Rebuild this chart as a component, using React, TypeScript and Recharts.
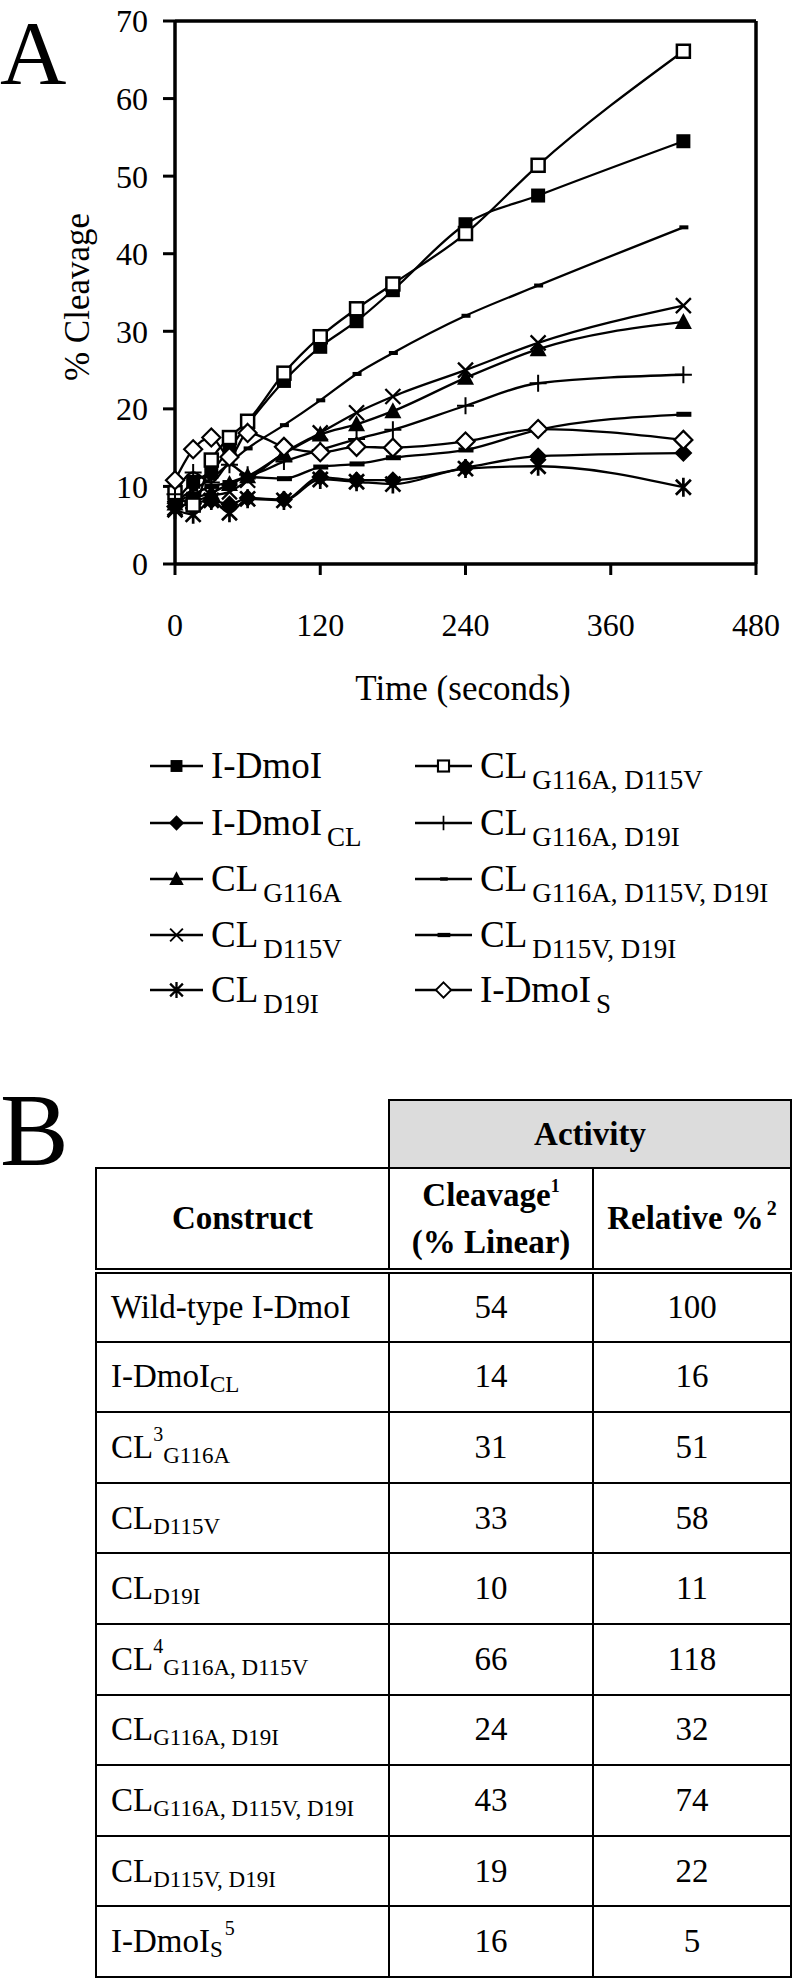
import { LineChart, Line, XAxis, YAxis, ReferenceLine } from "recharts"

const FONT = '"Liberation Serif", "Times New Roman", serif'

// time points (seconds)
const times = [0, 15, 30, 45, 60, 90, 120, 150, 180, 240, 300, 420]

// % cleavage per construct
const iDmoI = [8.0, 10.6, 11.9, 14.9, 18.0, 23.6, 28.0, 31.3, 35.3, 43.8, 47.5, 54.5]
const iDmoICL = [7.4, 7.8, 8.2, 7.7, 8.5, 8.3, 11.2, 10.8, 10.8, 12.4, 13.9, 14.3]
const clG116A = [7.8, 8.5, 9.2, 10.3, 11.3, 14.2, 16.7, 18.0, 19.7, 24.0, 27.7, 31.2]
const clD115V = [7.2, 8.0, 8.8, 9.3, 10.8, 14.3, 16.9, 19.5, 21.6, 25.0, 28.5, 33.3]
const clD19I = [7.0, 6.4, 8.2, 6.6, 8.4, 8.2, 10.9, 10.6, 10.3, 12.3, 12.6, 9.9]
const clG116AD115V = [9.2, 7.6, 13.4, 16.3, 18.4, 24.6, 29.3, 32.9, 36.1, 42.6, 51.4, 66.1]
const clG116AD19I = [9.0, 11.8, 10.5, 12.8, 11.5, 13.2, 14.7, 16.1, 17.3, 20.4, 23.3, 24.4]
const clTriple = [8.0, 9.6, 11.0, 13.0, 14.9, 17.9, 21.1, 24.5, 27.2, 32.0, 35.9, 43.4]
const clD115VD19I = [8.0, 9.0, 10.0, 10.5, 11.2, 11.0, 12.5, 12.9, 13.7, 14.7, 17.3, 19.3]
const iDmoIS = [10.8, 14.8, 16.3, 13.8, 16.9, 15.1, 14.4, 15.1, 15.0, 15.8, 17.4, 16.0]

const xTicks = [0, 120, 240, 360, 480]
const yTicks = [0, 10, 20, 30, 40, 50, 60, 70]

const seriesList = [
  { key: "wt", base: "I-DmoI", sub: "", shape: "square", values: iDmoI },
  { key: "cl", base: "I-DmoI", sub: "CL", shape: "diamond", values: iDmoICL },
  { key: "g116a", base: "CL", sub: "G116A", shape: "triangle", values: clG116A },
  { key: "d115v", base: "CL", sub: "D115V", shape: "cross", values: clD115V },
  { key: "d19i", base: "CL", sub: "D19I", shape: "star", values: clD19I },
  { key: "g116a_d115v", base: "CL", sub: "G116A, D115V", shape: "squareOpen", values: clG116AD115V },
  { key: "g116a_d19i", base: "CL", sub: "G116A, D19I", shape: "plus", values: clG116AD19I },
  { key: "triple", base: "CL", sub: "G116A, D115V, D19I", shape: "dashSmall", values: clTriple },
  { key: "d115v_d19i", base: "CL", sub: "D115V, D19I", shape: "dash", values: clD115VD19I },
  { key: "s", base: "I-DmoI", sub: "S", shape: "diamondOpen", values: iDmoIS },
]

const chartData = times.map((t, i) => {
  const row: Record<string, number> = { t }
  seriesList.forEach((s) => {
    row[s.key] = s.values[i]
  })
  return row
})

// table B
const constructs = [
  { base: "Wild-type I-DmoI" },
  { base: "I-DmoI", sub: "CL" },
  { base: "CL", sup: "3", sub: "G116A" },
  { base: "CL", sub: "D115V" },
  { base: "CL", sub: "D19I" },
  { base: "CL", sup: "4", sub: "G116A, D115V" },
  { base: "CL", sub: "G116A, D19I" },
  { base: "CL", sub: "G116A, D115V, D19I" },
  { base: "CL", sub: "D115V, D19I" },
  { base: "I-DmoI", sub: "S", supAfter: "5" },
]
const cleavage = [54, 14, 31, 33, 10, 66, 24, 43, 19, 16]
const relative = [100, 16, 51, 58, 11, 118, 32, 74, 22, 5]

const Marker = ({ shape, x, y, k = 1 }: { shape: string; x: number; y: number; k?: number }) => {
  let body = null
  switch (shape) {
    case "square":
      body = <rect x={-7} y={-7} width={14} height={14} fill="#000" />
      break
    case "squareOpen":
      body = <rect x={-6.5} y={-6.5} width={13} height={13} fill="#fff" stroke="#000" strokeWidth={2.5} />
      break
    case "diamond":
      body = <polygon points="0,-9 9,0 0,9 -9,0" fill="#000" />
      break
    case "diamondOpen":
      body = <polygon points="0,-9 9,0 0,9 -9,0" fill="#fff" stroke="#000" strokeWidth={2.2} />
      break
    case "triangle":
      body = <polygon points="0,-9 8.5,7 -8.5,7" fill="#000" />
      break
    case "cross":
      body = <path d="M-7.5,-7.5L7.5,7.5M-7.5,7.5L7.5,-7.5" stroke="#000" strokeWidth={2.3} />
      break
    case "star":
      body = <path d="M-7.5,-7.5L7.5,7.5M-7.5,7.5L7.5,-7.5M0,-9.5L0,9.5" stroke="#000" strokeWidth={2.7} />
      break
    case "plus":
      body = <path d="M-8.5,0L8.5,0M0,-8.5L0,8.5" stroke="#000" strokeWidth={2} />
      break
    case "dashSmall":
      body = <rect x={-4} y={-2} width={9} height={4} fill="#000" />
      break
    case "dash":
      body = <rect x={-7} y={-2.5} width={15} height={5} fill="#000" />
      break
  }
  return <g transform={`translate(${x},${y}) scale(${k})`}>{body}</g>
}

const legendRows = [766, 823, 879, 935, 990]
const legendCols = [
  { x1: 150, x2: 203 },
  { x1: 415, x2: 472 },
]

const cellBorder = "2px solid #000"

const ConstructLabel = ({ c }: { c: { base: string; sub?: string; sup?: string; supAfter?: string } }) => (
  <span>
    {c.base}
    {c.sup && <span style={{ fontSize: 20, position: "relative", top: -17 }}>{c.sup}</span>}
    {c.sub && <span style={{ fontSize: 23, position: "relative", top: 5 }}>{c.sub}</span>}
    {c.supAfter && <span style={{ fontSize: 20, position: "relative", top: -17, marginLeft: 2 }}>{c.supAfter}</span>}
  </span>
)

export default function App() {
  return (
    <div style={{ position: "absolute", left: 0, top: 0, width: 794, height: 1988, background: "#fff", fontFamily: FONT }}>
      <div style={{ position: "absolute", left: 0, top: 0, fontSize: 92, lineHeight: "normal" }}>A</div>

      <div style={{ position: "absolute", left: 0, top: 0 }}>
        <LineChart width={794} height={720} data={chartData} margin={{ top: 21, right: 38, bottom: 16, left: 0 }}>
          <XAxis
            dataKey="t"
            type="number"
            domain={[0, 480]}
            ticks={xTicks}
            height={140}
            tickSize={11}
            tickMargin={38}
            axisLine={{ stroke: "#000", strokeWidth: 3.5 }}
            tickLine={{ stroke: "#000", strokeWidth: 3 }}
            tick={{ fill: "#000", fontSize: 32, fontFamily: FONT }}
          />
          <YAxis
            type="number"
            domain={[0, 70]}
            ticks={yTicks}
            width={175}
            tickSize={12}
            tickMargin={15}
            axisLine={{ stroke: "#000", strokeWidth: 3.5 }}
            tickLine={{ stroke: "#000", strokeWidth: 3 }}
            tick={{ fill: "#000", fontSize: 32, fontFamily: FONT }}
          />
          <ReferenceLine y={70} stroke="#000" strokeWidth={3.5} />
          <ReferenceLine x={480} stroke="#000" strokeWidth={3.5} />
          {seriesList.map((s) => (
            <Line
              key={s.key}
              dataKey={s.key}
              type="monotone"
              stroke="#000"
              strokeWidth={2.3}
              isAnimationActive={false}
              dot={(p: any) => <Marker key={`${s.key}-${p.index}`} shape={s.shape} x={p.cx} y={p.cy} />}
            />
          ))}
        </LineChart>
      </div>

      {/* axis titles + legend */}
      <svg width={794} height={1060} style={{ position: "absolute", left: 0, top: 0, pointerEvents: "none" }}>
        <text transform="translate(89,297) rotate(-90)" textAnchor="middle" fontSize={35} fontFamily={FONT}>
          % Cleavage
        </text>
        <text x={463} y={700} textAnchor="middle" fontSize={35} fontFamily={FONT}>
          Time (seconds)
        </text>
        {seriesList.map((s, i) => {
          const col = legendCols[Math.floor(i / 5)]
          const y = legendRows[i % 5]
          const mid = (col.x1 + col.x2) / 2
          return (
            <g key={s.key}>
              <line x1={col.x1} x2={col.x2} y1={y} y2={y} stroke="#000" strokeWidth={2.5} />
              <Marker shape={s.shape} x={mid} y={y} k={0.85} />
              <text x={col.x2 + 8} y={y + 12} fontSize={37} fontFamily={FONT}>
                {s.base}
                {s.sub && (
                  <tspan fontSize={27} dx={5} dy={11}>
                    {s.sub}
                  </tspan>
                )}
              </text>
            </g>
          )
        })}
      </svg>

      <div style={{ position: "absolute", left: 0, top: 1079, fontSize: 103, lineHeight: "103px" }}>B</div>

      <table
        style={{
          position: "absolute",
          left: 95,
          top: 1099,
          width: 695,
          borderCollapse: "collapse",
          tableLayout: "fixed",
          fontFamily: FONT,
          fontSize: 33,
        }}
      >
        <colgroup>
          <col style={{ width: 293 }} />
          <col style={{ width: 204 }} />
          <col style={{ width: 198 }} />
        </colgroup>
        <tbody>
          <tr style={{ height: 68 }}>
            <td style={{ border: "none", padding: 0 }} />
            <td colSpan={2} style={{ border: cellBorder, background: "#dcdcdc", fontWeight: "bold", textAlign: "center", padding: 0 }}>
              Activity
            </td>
          </tr>
          <tr style={{ height: 103 }}>
            <td style={{ border: cellBorder, borderBottom: "6px double #000", fontWeight: "bold", textAlign: "center", padding: 0 }}>
              Construct
            </td>
            <td style={{ border: cellBorder, borderBottom: "6px double #000", fontWeight: "bold", textAlign: "center", padding: 0, lineHeight: "42px" }}>
              Cleavage<span style={{ fontSize: 18, position: "relative", top: -14 }}>1</span>
              <br />
              (% Linear)
            </td>
            <td style={{ border: cellBorder, borderBottom: "6px double #000", fontWeight: "bold", textAlign: "center", padding: 0 }}>
              Relative %<span style={{ fontSize: 20, position: "relative", top: -14, marginLeft: 3 }}>2</span>
            </td>
          </tr>
          {constructs.map((c, i) => (
            <tr key={i} style={{ height: 70.6 }}>
              <td style={{ border: cellBorder, padding: "0 0 0 14px", whiteSpace: "nowrap" }}>
                <ConstructLabel c={c} />
              </td>
              <td style={{ border: cellBorder, textAlign: "center", padding: 0 }}>{cleavage[i]}</td>
              <td style={{ border: cellBorder, textAlign: "center", padding: 0 }}>{relative[i]}</td>
            </tr>
          ))}
        </tbody>
      </table>
    </div>
  )
}
